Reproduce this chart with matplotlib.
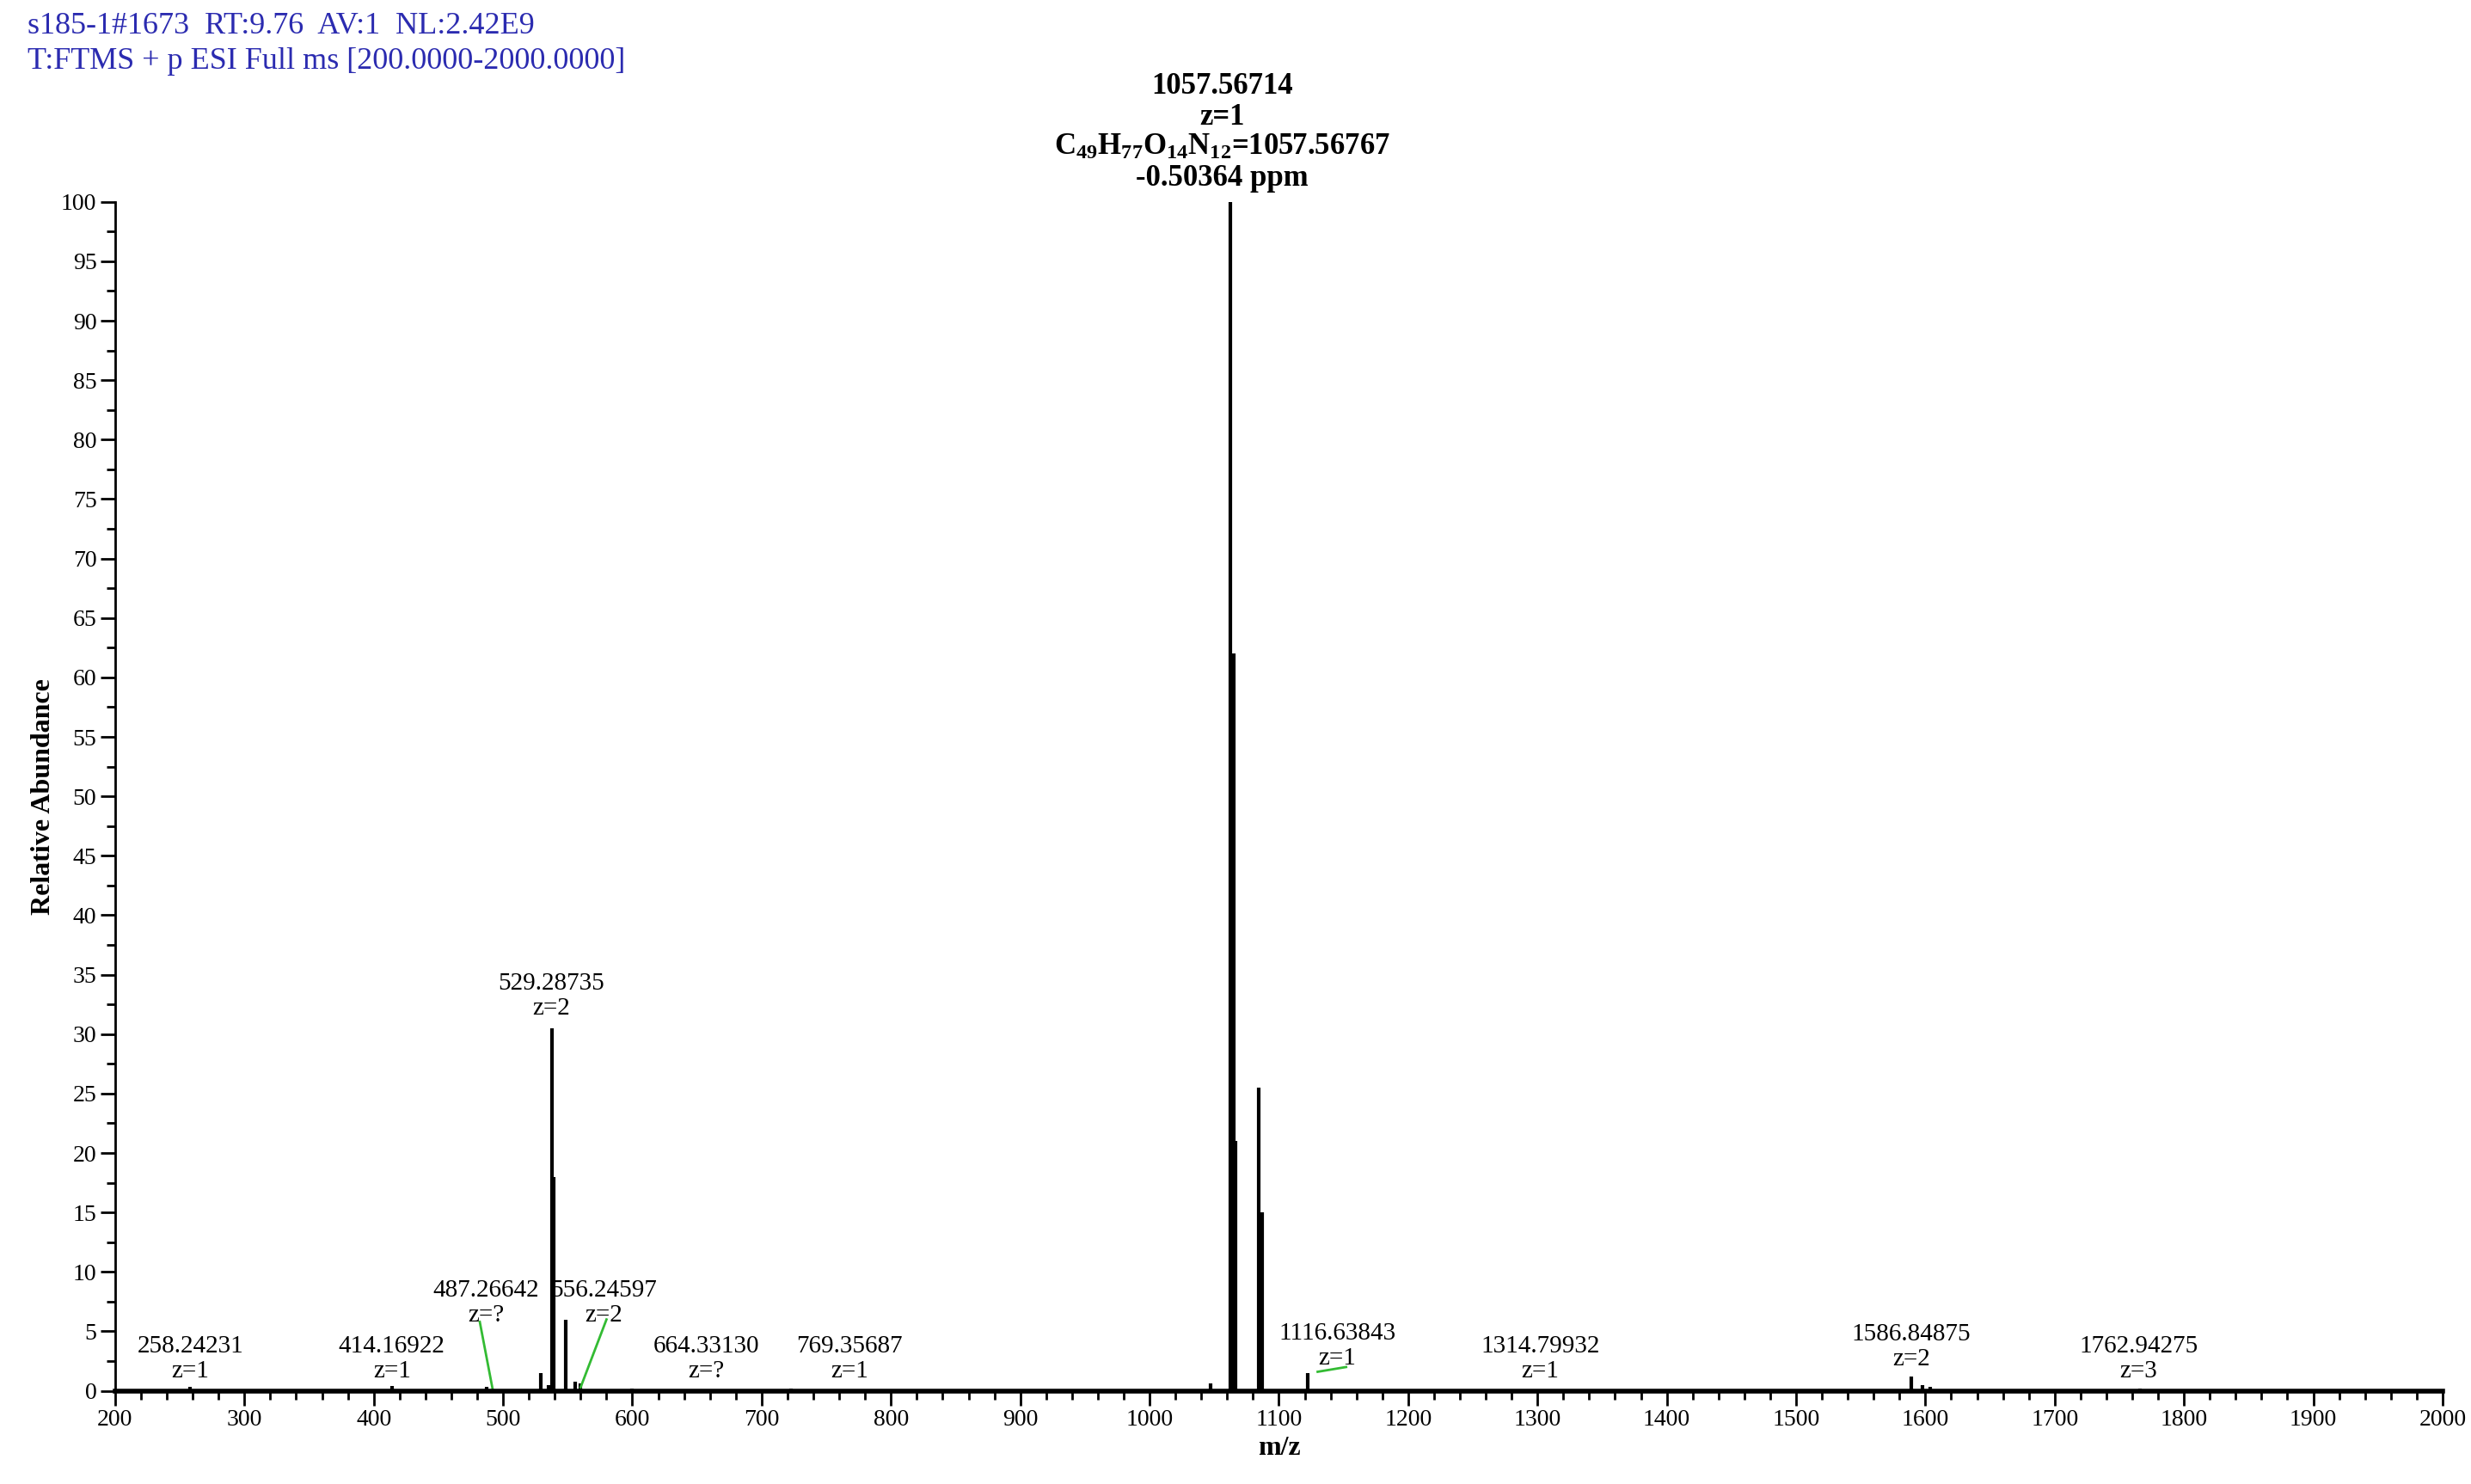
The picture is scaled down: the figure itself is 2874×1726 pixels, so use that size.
import matplotlib
matplotlib.use('Agg')
import matplotlib.pyplot as plt
from matplotlib.ticker import MultipleLocator

plt.rcParams['font.family'] = ['Liberation Serif', 'DejaVu Serif']
plt.rcParams['mathtext.fontset'] = 'custom'
plt.rcParams['mathtext.rm'] = 'Liberation Serif'
plt.rcParams['mathtext.bf'] = 'Liberation Serif:bold'

# ---------------- data ----------------
peak_mz = [258, 414, 487, 529, 535, 537.6, 539, 548.5, 556, 560, 600, 723, 1047, 1062.8, 1065, 1066.3,
           1084.7, 1087, 1122, 1589, 1598, 1604, 1766]
peak_int = [0.3, 0.4, 0.3, 1.5, 0.5, 30.5, 18.0, 6.0, 0.8, 0.6, 0.2, 0.2, 0.6, 100, 62, 21,
            25.5, 15, 1.5, 1.2, 0.5, 0.3, 0.2]

labels = ['258.24231\nz=1', '414.16922\nz=1', '487.26642\nz=?', '529.28735\nz=2', '556.24597\nz=2',
          '664.33130\nz=?', '769.35687\nz=1', '1116.63843\nz=1', '1314.79932\nz=1',
          '1586.84875\nz=2', '1762.94275\nz=3']
label_x = [258, 414, 487, 537, 578, 657, 768, 1145, 1302, 1589, 1765]
label_y = [0.3, 0.3, 5.0, 30.8, 5.0, 0.3, 0.3, 1.4, 0.3, 1.3, 0.3]
# green leader lines: (label point) -> (peak point)
leaders = [((482, 5.8), (492, 0.1)), ((580, 6.0), (560, 0.3)), ((1130, 1.6), (1152, 2.0))]

fig = plt.figure(figsize=(28.74, 17.26), dpi=100)
ax = fig.add_axes([0.0466, 0.0628, 0.9419, 0.8012])

ax.vlines(peak_mz, 0, peak_int, color='black', linewidth=3)
ax.set_xlim(200, 2000)
ax.set_ylim(0, 100)
for s in ['top', 'right']:
    ax.spines[s].set_visible(False)
ax.spines['bottom'].set_linewidth(4)
ax.spines['left'].set_linewidth(2)
ax.xaxis.set_major_locator(MultipleLocator(100))
ax.xaxis.set_minor_locator(MultipleLocator(20))
ax.yaxis.set_major_locator(MultipleLocator(5))
ax.yaxis.set_minor_locator(MultipleLocator(2.5))
ax.tick_params(which='major', length=12, width=2, labelsize=20)
ax.tick_params(which='minor', length=7, width=2)
ax.set_xlabel('m/z', fontsize=23, fontweight='bold')
ax.set_ylabel('Relative Abundance', fontsize=23, fontweight='bold')

for t, x, y in zip(labels, label_x, label_y):
    ax.annotate(t, (x, y), xytext=(0, 4), textcoords='offset points', ha='center', va='bottom',
                fontsize=21, linespacing=1.15)
for (p1, p2) in leaders:
    ax.plot([p1[0], p2[0]], [p1[1], p2[1]], color='#33bb33', linewidth=2)

ax.annotate('1057.56714\nz=1\n$\\mathbf{C_{49}H_{77}O_{14}N_{12}}$=1057.56767\n-0.50364 ppm',
            (1062.8, 100), xytext=(-7, 8), textcoords='offset points', ha='center', va='bottom',
            fontsize=25, fontweight='bold', linespacing=1.1, annotation_clip=False)

fig.text(0.011, 0.992, 's185-1#1673  RT:9.76  AV:1  NL:2.42E9', color='#2b2bb0', fontsize=26, va='top')
fig.text(0.011, 0.968, 'T:FTMS + p ESI Full ms [200.0000-2000.0000]', color='#2b2bb0', fontsize=26, va='top')

plt.savefig('out.png', dpi=100)
